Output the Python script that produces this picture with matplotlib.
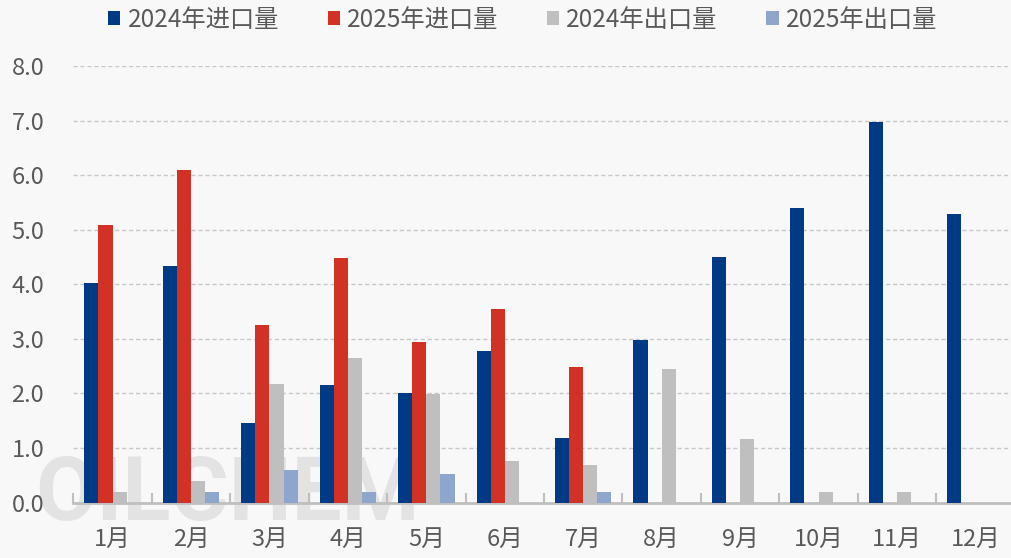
import numpy as np
from matplotlib import pyplot as plt

plt.rcParams['font.family'] = ['Noto Sans CJK SC', 'DejaVu Sans']

months = ['1月', '2月', '3月', '4月', '5月', '6月', '7月', '8月', '9月', '10月', '11月', '12月']
import_2024 = [4.03, 4.34, 1.46, 2.15, 2.01, 2.77, 1.19, 2.97, 4.50, 5.40, 6.98, 5.28]
import_2025 = [5.09, 6.10, 3.26, 4.48, 2.95, 3.54, 2.48, np.nan, np.nan, np.nan, np.nan, np.nan]
export_2024 = [0.20, 0.40, 2.17, 2.64, 1.99, 0.76, 0.69, 2.45, 1.16, 0.20, 0.20, 0.0]
export_2025 = [0.0, 0.20, 0.59, 0.20, 0.53, np.nan, 0.20, np.nan, np.nan, np.nan, np.nan, np.nan]

series = [
    ('2024年进口量', import_2024, '#003A84'),
    ('2025年进口量', import_2025, '#D23226'),
    ('2024年出口量', export_2024, '#BFBFBF'),
    ('2025年出口量', export_2025, '#8EA6CB'),
]

bg = '#F8F8F8'
fig = plt.figure(figsize=(10.11, 5.58), dpi=100, facecolor=bg)
ax = fig.add_axes([73.3 / 1011, 1 - 502.5 / 558, 941.4 / 1011, (502.5 - 66) / 558])
ax.set_facecolor(bg)

x = np.arange(len(months))
w = 0.18
for i, (name, vals, color) in enumerate(series):
    ax.bar(x + (i - 1.5) * w, vals, width=w, color=color, label=name, zorder=3)

# faint watermark behind everything else
ax.text(35 / 1011, 1 - 520 / 558, 'OILCHEM', transform=fig.transFigure,
        fontsize=64, fontweight='bold', color='#E3E3E3', va='baseline',
        family=['Roboto', 'DejaVu Sans'], zorder=0.2, clip_on=False)

ax.set_xlim(-0.5, len(months) - 0.5)
ax.set_ylim(0, 8)
ax.set_yticks(np.arange(0, 8.1, 1))
ax.set_yticklabels([f'{v:.1f}' for v in np.arange(0, 8.1, 1)])
ax.yaxis.grid(True, linestyle=(0, (3, 2)), color='#C8C8C8', linewidth=1)
ax.set_axisbelow(True)

ax.set_xticks(x)
ax.set_xticklabels(months)
ax.set_xticks(np.arange(-0.5, len(months), 1), minor=True)
ax.tick_params(axis='x', which='major', length=0, pad=18, labelsize=17, labelcolor='#595959')
ax.tick_params(axis='x', which='minor', direction='in', length=7, width=1.5, color='#BFBFBF')
ax.tick_params(axis='y', length=0, pad=21, labelsize=17, labelcolor='#595959')

for s in ['top', 'right', 'left']:
    ax.spines[s].set_visible(False)
ax.spines['bottom'].set_color('#BFBFBF')
ax.spines['bottom'].set_linewidth(2)

fig.legend(loc='center', bbox_to_anchor=(0.517, 1 - 20 / 558), ncol=4, frameon=False,
           fontsize=17.5, labelcolor='#595959', handlelength=0.5, handleheight=0.5,
           handletextpad=0.3, columnspacing=2.0, borderpad=0)

plt.savefig('out.png', dpi=100, facecolor=bg)
plt.close()
